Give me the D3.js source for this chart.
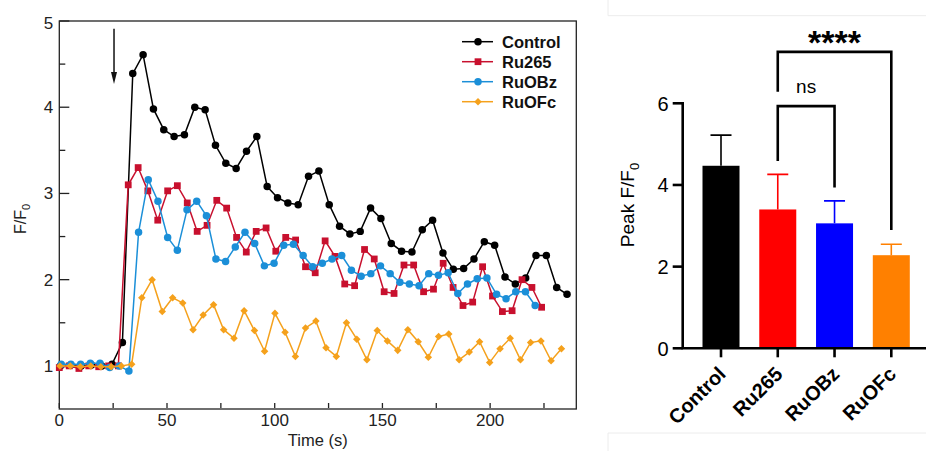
<!DOCTYPE html>
<html>
<head>
<meta charset="utf-8">
<script src="https://cdn.jsdelivr.net/npm/d3@7"></script>
<style>
  body { margin: 0; background: #fff; }
  svg { display: block; font-family: "Liberation Sans", Arial, Helvetica, sans-serif; }
</style>
</head>
<body>
<div id="chart"></div>
<script>
// time course (left panel)
var seriesNames = ["Control", "Ru265", "RuOBz", "RuOFc"];

var controlTime = [0.5, 5.3, 10.1, 14.9, 19.7, 24.5, 29.3, 34.1, 38.9, 43.7, 48.5, 53.3, 58.1, 62.9, 67.7,
  72.5, 77.3, 82.1, 86.9, 91.7, 96.5, 101.3, 106.1, 110.9, 115.7, 120.5, 125.3, 130.1, 134.9, 139.7,
  144.5, 149.3, 154.1, 158.9, 163.7, 168.5, 173.3, 178.1, 182.9, 187.7, 192.5, 197.3, 202.1, 206.9,
  211.7, 216.5, 221.3, 226.1, 230.9, 235.7];
var controlValues = [1.0, 1.01, 1.0, 1.01, 1.0, 1.02, 1.27, 4.39, 4.61, 3.98, 3.74, 3.66, 3.68, 4.0, 3.97,
  3.56, 3.35, 3.29, 3.49, 3.66, 3.08, 2.95, 2.89, 2.87, 3.2, 3.26, 2.87, 2.62, 2.53, 2.56,
  2.83, 2.71, 2.42, 2.33, 2.32, 2.58, 2.69, 2.31, 2.12, 2.13, 2.24, 2.44, 2.4, 2.03,
  1.95, 2.02, 2.28, 2.28, 1.91, 1.83];

var ru265Time = [0, 4.6, 9.1, 13.7, 18.3, 22.9, 27.4, 32.0, 36.6, 41.1, 45.7, 50.3, 54.8, 59.4, 64.0,
  68.6, 73.1, 77.7, 82.3, 86.8, 91.4, 96.0, 100.5, 105.1, 109.7, 114.3, 118.8, 123.4, 128.0, 132.5,
  137.1, 141.7, 146.2, 150.8, 155.4, 160.0, 164.5, 169.1, 173.7, 178.2, 182.8, 187.4, 191.9, 196.5,
  201.1, 205.7, 210.2, 214.8, 219.4, 223.9];
var ru265Values = [0.98, 1.0, 0.97, 1.0, 0.99, 1.0, 1.0, 3.1, 3.3, 3.03, 2.69, 3.03, 3.09, 2.89, 2.56,
  2.63, 2.92, 2.83, 2.49, 2.32, 2.56, 2.6, 2.33, 2.49, 2.46, 2.15, 2.08, 2.45, 2.27, 1.95,
  1.93, 2.35, 2.24, 1.86, 1.84, 2.17, 2.17, 1.86, 1.89, 2.19, 1.91, 1.7, 1.74, 2.15,
  1.81, 1.63, 1.64, 2.0, 1.91, 1.68];

var ruobzTime = [0.9, 5.4, 9.9, 14.4, 18.9, 23.4, 27.8, 32.3, 36.8, 41.3, 45.8, 50.3, 54.8, 59.3, 63.8,
  68.3, 72.7, 77.2, 81.7, 86.2, 90.7, 95.2, 99.7, 104.2, 108.7, 113.2, 117.6, 122.1, 126.6, 131.1,
  135.6, 140.1, 144.6, 149.1, 153.6, 158.1, 162.5, 167.0, 171.5, 176.0, 180.5, 185.0, 189.5, 194.0,
  198.5, 203.0, 207.4, 211.9, 216.4, 220.9];
var ruobzValues = [1.02, 1.02, 1.02, 1.03, 1.03, 0.98, 1.0, 0.94, 2.55, 3.16, 2.91, 2.49, 2.34, 2.81, 2.91,
  2.74, 2.24, 2.21, 2.38, 2.55, 2.42, 2.16, 2.19, 2.4, 2.41, 2.28, 2.15, 2.19, 2.24, 2.28,
  2.11, 2.04, 2.07, 2.16, 2.07, 1.97, 1.95, 1.93, 2.07, 2.05, 2.08, 1.84, 1.95, 2.01,
  2.02, 1.83, 1.78, 1.86, 1.86, 1.7];

var ruofcTime = [0.3, 5.1, 9.8, 14.6, 19.3, 24.1, 28.8, 33.6, 38.3, 43.1, 47.8, 52.6, 57.3, 62.1, 66.8,
  71.6, 76.3, 81.1, 85.8, 90.6, 95.3, 100.1, 104.8, 109.6, 114.3, 119.1, 123.8, 128.6, 133.3, 138.1,
  142.8, 147.6, 152.3, 157.1, 161.8, 166.6, 171.3, 176.1, 180.8, 185.6, 190.3, 195.1, 199.8, 204.6,
  209.3, 214.1, 218.8, 223.6, 228.3, 233.1];
var ruofcValues = [1.0, 1.0, 0.99, 1.0, 0.99, 0.99, 1.0, 1.02, 1.79, 2.0, 1.63, 1.79, 1.73, 1.42, 1.59,
  1.71, 1.42, 1.32, 1.64, 1.41, 1.17, 1.61, 1.39, 1.11, 1.44, 1.52, 1.21, 1.11, 1.5, 1.31,
  1.07, 1.41, 1.29, 1.18, 1.42, 1.28, 1.1, 1.34, 1.37, 1.07, 1.16, 1.28, 1.04, 1.2,
  1.32, 1.07, 1.27, 1.29, 1.06, 1.2];

var timeTicks = [0, 50, 100, 150, 200];
var timeMinorTicks = [25, 75, 125, 175, 225];
var ratioTicks = [1, 2, 3, 4, 5];
var ratioMinorTicks = [1.5, 2.5, 3.5, 4.5];
var arrowAt = { t: 25.4, from: 4.91, to: 4.27 };

// peak values (right panel)
var peakCategories = ["Control", "Ru265", "RuOBz", "RuOFc"];
var peakMeans = [4.47, 3.4, 3.06, 2.28];
var peakErrors = [0.75, 0.86, 0.55, 0.27];
var peakTicks = [0, 2, 4, 6];
var comparisons = [
  { from: "Ru265", to: "RuOBz", top: 5.93, leftEnd: 4.59, rightEnd: 3.94, label: "ns", labelAt: 6.26 },
  { from: "Ru265", to: "RuOFc", top: 7.26, leftEnd: 6.28, rightEnd: 2.9, label: "****", labelAt: 7.2 }
];

var lineColors = ["#000000", "#c8102e", "#1b8fd8", "#f5a11c"];
var barColors = ["#000000", "#ff0000", "#0000ff", "#ff8000"];
var symbols = [d3.symbolCircle, d3.symbolSquare, d3.symbolCircle, d3.symbolDiamond2];
var symbolSizes = [44, 46, 44, 36];

var W = 926, H = 451;
var svg = d3.select("#chart").append("svg").attr("width", W).attr("height", H);

// faint page-card edges on the right
svg.append("path")
  .attr("d", "M608,0V15.7H926M608,451V433H926")
  .attr("fill", "none").attr("stroke", "#ececec").attr("stroke-width", 1);

function timeCourse(g) {
  var x = d3.scaleLinear().domain([0, 240]).range([59.3, 576.3]);
  var y = d3.scaleLinear().domain([0.5, 5]).range([409, 21]);

  var series = [
    { time: controlTime, values: controlValues },
    { time: ru265Time, values: ru265Values },
    { time: ruobzTime, values: ruobzValues },
    { time: ruofcTime, values: ruofcValues }
  ];

  g.append("rect")
    .attr("x", x.range()[0]).attr("y", y.range()[1])
    .attr("width", x.range()[1] - x.range()[0]).attr("height", y.range()[0] - y.range()[1])
    .attr("fill", "none").attr("stroke", "#222").attr("stroke-width", 1.3);

  var yAxis = g.append("g").attr("transform", "translate(" + x.range()[0] + ",0)");
  yAxis.selectAll(".maj").data(ratioTicks).enter().append("line")
    .attr("x1", 0).attr("x2", 10).attr("y1", y).attr("y2", y)
    .attr("stroke", "#222").attr("stroke-width", 1.3);
  yAxis.selectAll(".min").data(ratioMinorTicks).enter().append("line")
    .attr("x1", 0).attr("x2", 6).attr("y1", y).attr("y2", y)
    .attr("stroke", "#222").attr("stroke-width", 1.3);
  yAxis.selectAll("text").data(ratioTicks).enter().append("text")
    .attr("x", -6).attr("y", function(d) { return y(d) + (d === 5 ? 2 : 0); })
    .attr("dy", "0.35em").attr("text-anchor", "end")
    .attr("font-size", 17).attr("fill", "#222")
    .text(function(d) { return d; });

  var xAxis = g.append("g").attr("transform", "translate(0," + y.range()[0] + ")");
  xAxis.selectAll("line").data(timeTicks.concat(timeMinorTicks)).enter().append("line")
    .attr("x1", x).attr("x2", x).attr("y1", -1).attr("y2", -6)
    .attr("stroke", "#222").attr("stroke-width", 1.3);
  xAxis.selectAll("text").data(timeTicks).enter().append("text")
    .attr("x", x).attr("y", 17).attr("text-anchor", "middle")
    .attr("font-size", 17).attr("fill", "#222")
    .text(function(d) { return d; });

  g.append("text")
    .attr("x", (x.range()[0] + x.range()[1]) / 2).attr("y", 446)
    .attr("text-anchor", "middle").attr("font-size", 16.5).attr("fill", "#222")
    .text("Time (s)");

  var yt = g.append("text")
    .attr("transform", "translate(26,219) rotate(-90)")
    .attr("text-anchor", "middle").attr("font-size", 16).attr("fill", "#222")
    .text("F/F");
  yt.append("tspan").attr("font-size", 11).attr("dy", 4).text("0");

  var line = d3.line()
    .x(function(d) { return x(d[0]); })
    .y(function(d) { return y(d[1]); });

  series.forEach(function(s, i) {
    var pts = d3.zip(s.time, s.values);
    g.append("path").datum(pts)
      .attr("d", line).attr("fill", "none")
      .attr("stroke", lineColors[i]).attr("stroke-width", 1.5);
    g.append("g").selectAll("path").data(pts).enter().append("path")
      .attr("transform", function(d) { return "translate(" + x(d[0]) + "," + y(d[1]) + ")"; })
      .attr("d", d3.symbol().type(symbols[i]).size(symbolSizes[i]))
      .attr("fill", lineColors[i]);
  });

  // stimulus arrow
  var ax = x(arrowAt.t), ay0 = y(arrowAt.from), ay1 = y(arrowAt.to);
  g.append("line").attr("x1", ax).attr("x2", ax).attr("y1", ay0).attr("y2", ay1 - 8)
    .attr("stroke", "#111").attr("stroke-width", 1.5);
  g.append("path")
    .attr("d", "M" + (ax - 3) + "," + (ay1 - 12) + "L" + ax + "," + ay1 + "L" + (ax + 3) + "," + (ay1 - 12) + "Z")
    .attr("fill", "#111");

  // legend
  var legend = g.append("g").attr("transform", "translate(462,41.7)");
  seriesNames.forEach(function(name, i) {
    var row = legend.append("g").attr("transform", "translate(0," + i * 20 + ")");
    row.append("line").attr("x1", 0).attr("x2", 31).attr("stroke", lineColors[i]).attr("stroke-width", 1.5);
    row.append("path").attr("transform", "translate(16,0)")
      .attr("d", d3.symbol().type(symbols[i]).size(symbolSizes[i]))
      .attr("fill", lineColors[i]);
    row.append("text").attr("x", 40).attr("y", 6)
      .attr("font-size", 16.5).attr("font-weight", "bold").attr("fill", "#111")
      .text(name);
  });
}

function peakBars(g) {
  var x = d3.scalePoint().domain(peakCategories).range([721, 891.3]);
  var y = d3.scaleLinear().domain([0, 6]).range([348.3, 103.3]);
  var bw = 37;

  g.selectAll(".bar").data(peakCategories).enter().append("rect")
    .attr("x", function(d) { return x(d) - bw / 2; })
    .attr("y", function(d, i) { return y(peakMeans[i]); })
    .attr("width", bw)
    .attr("height", function(d, i) { return y(0) - y(peakMeans[i]); })
    .attr("fill", function(d, i) { return barColors[i]; });

  var err = g.append("g");
  peakCategories.forEach(function(c, i) {
    var top = y(peakMeans[i] + peakErrors[i]);
    err.append("path")
      .attr("d", "M" + x(c) + "," + y(peakMeans[i]) + "V" + top + "M" + (x(c) - 10.5) + "," + top + "H" + (x(c) + 10.5))
      .attr("fill", "none").attr("stroke", barColors[i]).attr("stroke-width", 1.6);
  });

  var axisX = 682.7;
  g.append("line").attr("x1", axisX).attr("x2", axisX).attr("y1", y(6) - 1.3).attr("y2", y(0))
    .attr("stroke", "#000").attr("stroke-width", 2.6);
  g.append("line").attr("x1", axisX - 1.3).attr("x2", 926).attr("y1", y(0)).attr("y2", y(0))
    .attr("stroke", "#000").attr("stroke-width", 2.6);

  g.selectAll(".yt").data(peakTicks).enter().append("line")
    .attr("x1", axisX - 10).attr("x2", axisX).attr("y1", y).attr("y2", y)
    .attr("stroke", "#000").attr("stroke-width", 2.6);
  g.selectAll(".yl").data(peakTicks).enter().append("text")
    .attr("x", axisX - 14).attr("y", y).attr("dy", "0.36em")
    .attr("text-anchor", "end").attr("font-size", 20).attr("fill", "#000")
    .text(function(d) { return d; });

  g.selectAll(".xt").data(peakCategories).enter().append("line")
    .attr("x1", x).attr("x2", x).attr("y1", y(0)).attr("y2", y(0) + 9)
    .attr("stroke", "#000").attr("stroke-width", 2.6);
  g.selectAll(".xl").data(peakCategories).enter().append("text")
    .attr("transform", function(d) { return "translate(" + (x(d) + 6) + "," + (y(0) + 27) + ") rotate(-45)"; })
    .attr("text-anchor", "end").attr("font-size", 20).attr("font-weight", "bold").attr("fill", "#000")
    .text(function(d) { return d; });

  var yt = g.append("text")
    .attr("transform", "translate(634,205) rotate(-90)")
    .attr("text-anchor", "middle").attr("font-size", 19).attr("fill", "#000")
    .text("Peak F/F");
  yt.append("tspan").attr("font-size", 13).attr("dy", 5).text("0");

  comparisons.forEach(function(c) {
    var x0 = x(c.from), x1 = x(c.to);
    g.append("path")
      .attr("d", "M" + x0 + "," + y(c.leftEnd) + "V" + y(c.top) + "H" + x1 + "V" + y(c.rightEnd))
      .attr("fill", "none").attr("stroke", "#000").attr("stroke-width", 2.6);
    var big = c.label.charAt(0) === "*";
    g.append("text")
      .attr("x", (x0 + x1) / 2).attr("y", y(c.labelAt))
      .attr("text-anchor", "middle")
      .attr("font-size", big ? 34 : 19).attr("font-weight", big ? "bold" : "normal")
      .attr("fill", "#000")
      .text(c.label);
  });
}

timeCourse(svg.append("g"));
peakBars(svg.append("g"));
</script>
</body>
</html>
